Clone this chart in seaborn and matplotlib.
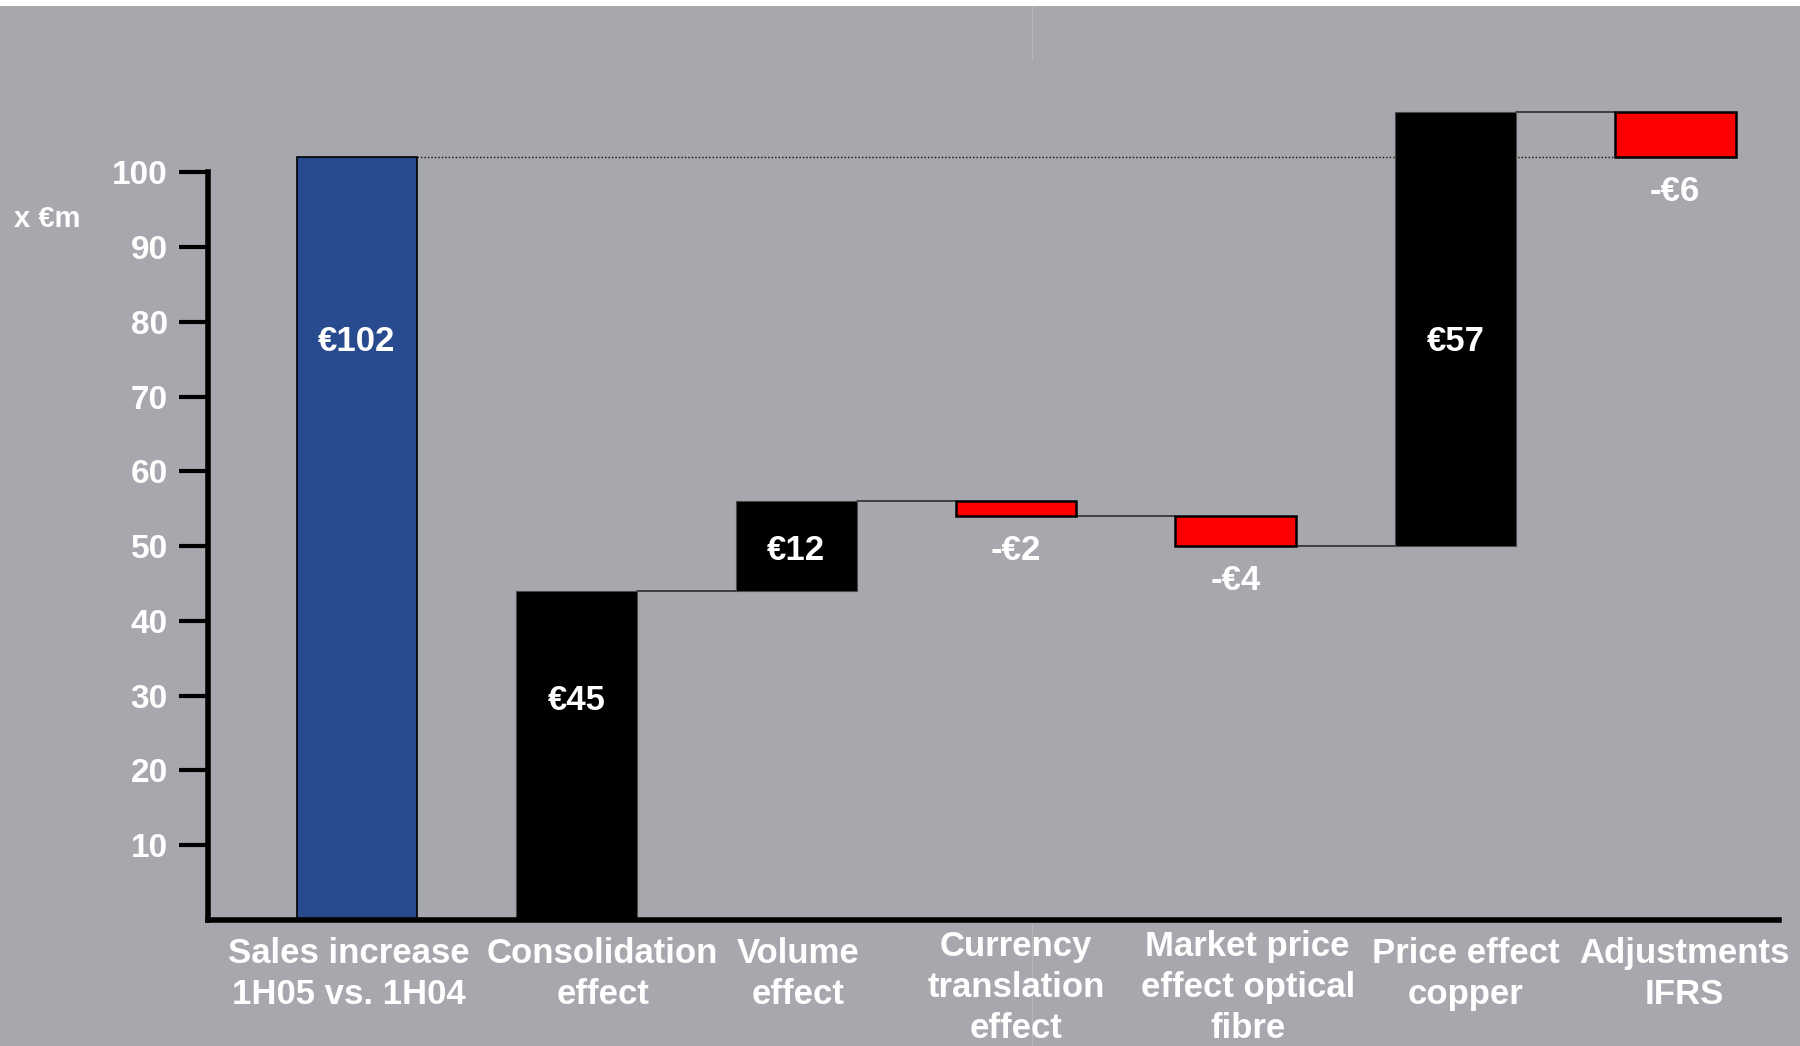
import matplotlib
matplotlib.use("Agg")
import matplotlib.pyplot as plt
from matplotlib.lines import Line2D
from matplotlib.patches import Rectangle
from matplotlib.transforms import ScaledTranslation
import numpy as np
import pandas as pd
import seaborn as sns

# waterfall data (x EUR m)
categories = ["Sales increase\n1H05 vs. 1H04", "Consolidation\neffect", "Volume\neffect",
              "Currency\ntranslation\neffect", "Market price\neffect optical\nfibre",
              "Price effect\ncopper", "Adjustments\nIFRS"]
bar_bottom = [0, 0, 44, 54, 50, 50, 102]
bar_top = [102, 44, 56, 56, 54, 108, 108]
bar_kind = ["total", "up", "up", "down", "down", "up", "down"]
bar_labels = ["€102", "€45", "€12", "-€2", "-€4", "€57", "-€6"]
y_ticks = [10, 20, 30, 40, 50, 60, 70, 80, 90, 100]

BG = "#a7a8ad"
colors = {"total": "#284a8e", "up": "#000000", "down": "#ff0000"}
edges = {"total": "#000000", "up": "#4a4a4a", "down": "#000000"}
edge_w = {"total": 1.2, "up": 0.8, "down": 1.8}

df = pd.DataFrame({"category": categories,
                   "bottom": bar_bottom,
                   "height": np.array(bar_top) - np.array(bar_bottom),
                   "kind": bar_kind})

sns.set_theme(style="white")
plt.rcParams["font.family"] = ["Liberation Sans", "DejaVu Sans"]

fig = plt.figure(figsize=(18, 10.46), dpi=100, facecolor=BG)
ax = fig.add_axes([208 / 1800, 126 / 1046, (1779 - 208) / 1800, 860 / 1046])
ax.set_facecolor(BG)

W = 0.55
sns.barplot(data=df, x="category", y="height", order=categories, bottom=df["bottom"].values,
            color="black", width=W, errorbar=None, saturation=1, ax=ax, zorder=3)

for patch, kind in zip(ax.patches, bar_kind):
    patch.set_facecolor(colors[kind])
    patch.set_edgecolor(edges[kind])
    patch.set_linewidth(edge_w[kind])

# connector lines between bars
for i in range(1, len(categories) - 1):
    level = bar_top[i] if bar_kind[i] != "down" else bar_bottom[i]
    ax.plot([i + W / 2, i + 1 - W / 2], [level, level], color="#222222", lw=1.1, zorder=2)
ax.plot([W / 2, len(categories) - 1 - W / 2], [bar_top[0], bar_top[0]],
        color="#111111", lw=1.0, ls=(0, (1, 1.5)), zorder=1)

# value labels
label_y = [77.4, 29.4, 49.4, 49.4, 45.4, 77.4, 97.4]
for i, (txt, yy) in enumerate(zip(bar_labels, label_y)):
    ax.text(i, yy, txt, ha="center", va="center", color="white",
            fontsize=25, fontweight="bold", zorder=5)

ax.set_xlim(-0.678, 6.473)
ax.set_ylim(0, 115)
ax.set_yticks(y_ticks)
ax.set_xlabel("")
ax.set_ylabel("")

for s in ["top", "right"]:
    ax.spines[s].set_visible(False)
for s in ["left", "bottom"]:
    ax.spines[s].set_color("black")
    ax.spines[s].set_linewidth(4)
    ax.spines[s].set_zorder(6)
ax.spines["left"].set_bounds(0, 100)

ax.tick_params(axis="y", length=21, width=3, pad=8, color="black",
               labelcolor="white", labelsize=24, left=True)
ax.tick_params(axis="x", length=0, pad=12, labelcolor="white", labelsize=25)
plt.setp(ax.get_yticklabels(), fontweight="bold")
plt.setp(ax.get_xticklabels(), fontweight="bold", multialignment="center", linespacing=1.31)

# nudge category labels like the original slide (pixel offsets)
label_dx = [-8, 26, 2, 0, 12, 10, 9]
label_dy = [0, 0, 0, 7, 7, 0, 0]
for lab, dx, dy in zip(ax.get_xticklabels(), label_dx, label_dy):
    lab.set_transform(lab.get_transform() + ScaledTranslation(dx / 100, dy / 100, fig.dpi_scale_trans))

fig.text(14 / 1800, 1 - 219 / 1046, "x €m", ha="left", va="center",
         color="white", fontsize=21, fontweight="bold")

# slide artefacts: white strip on top and faint divider
fig.add_artist(Rectangle((0, 1 - 6 / 1046), 1, 6 / 1046, transform=fig.transFigure,
                         facecolor="white", edgecolor="none"))
fig.add_artist(Line2D([1032 / 1800, 1032 / 1800], [0, 1 - 6 / 1046], transform=fig.transFigure,
                      color="#b6b7bb", lw=0.8, zorder=0))

fig.savefig("out.png", dpi=100, facecolor=BG)
